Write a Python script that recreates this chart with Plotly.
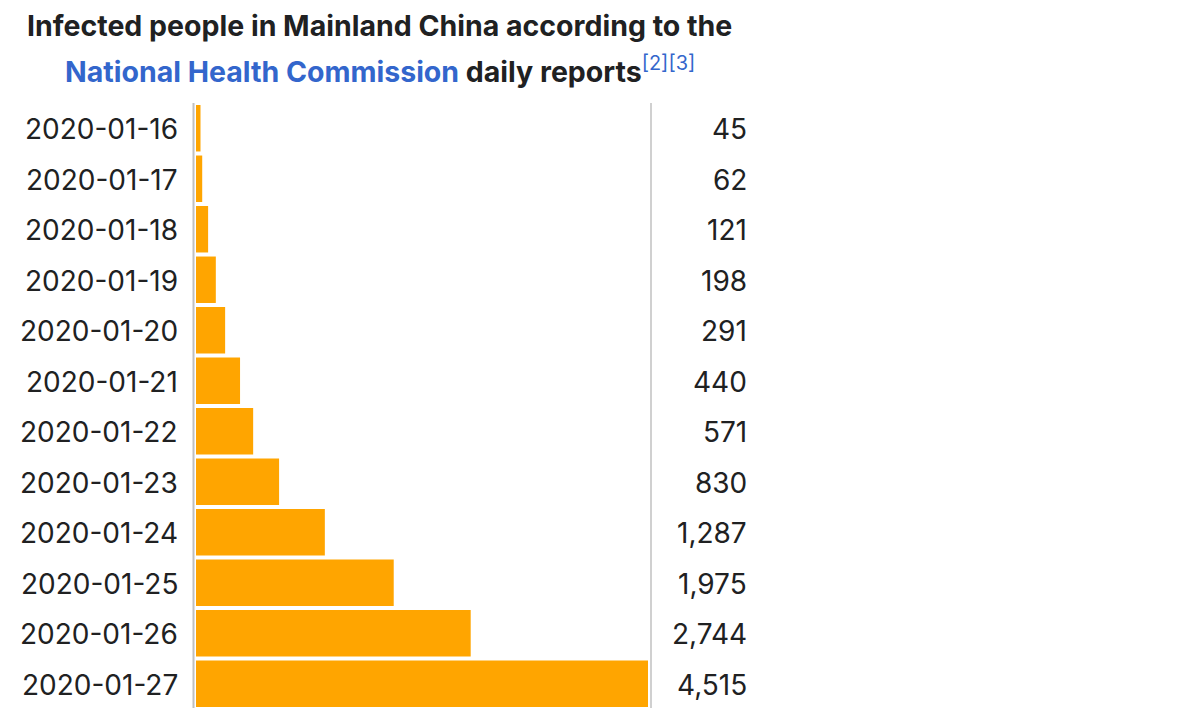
import plotly.graph_objects as go

dates = ["2020-01-16", "2020-01-17", "2020-01-18", "2020-01-19", "2020-01-20", "2020-01-21",
         "2020-01-22", "2020-01-23", "2020-01-24", "2020-01-25", "2020-01-26", "2020-01-27"]
infected = [45, 62, 121, 198, 291, 440, 571, 830, 1287, 1975, 2744, 4515]

OFF = 8  # default page body margin
W, H = 1180 - 2 * OFF, 722 - 2 * OFF
FONT = "Inter, 'Open Sans', sans-serif"
TXT = "#202122"
BLUE = "#3366cc"
GRAY = "#c0c0c0"


def px(x):
    return (x - OFF) / W


def py(y):
    return 1 - (y - OFF) / H


fig = go.Figure()
fig.add_trace(go.Bar(
    x=infected, y=dates, orientation="h",
    marker=dict(color="#ffa500", line=dict(width=0)),
    hoverinfo="x+y",
))

annotations = []
for d, v in zip(dates, infected):
    annotations.append(dict(x=px(180), xref="paper", y=d, yref="y", text=d,
                            xanchor="right", yanchor="middle", showarrow=False, yshift=-1,
                            font=dict(family=FONT, size=28, color=TXT)))
    annotations.append(dict(x=px(749), xref="paper", y=d, yref="y", text=f"{v:,}",
                            xanchor="right", yanchor="middle", showarrow=False, yshift=-1,
                            font=dict(family=FONT, size=28, color=TXT)))

annotations.append(dict(x=px(380), xref="paper", y=py(25), yref="paper",
                        text="<b>Infected people in Mainland China according to the</b>",
                        xanchor="center", yanchor="middle", showarrow=False,
                        font=dict(family=FONT, size=28.5, color=TXT)))
annotations.append(dict(x=px(380), xref="paper", y=py(70), yref="paper",
                        text=f"<b><span style='color:{BLUE}'>National Health Commission</span> daily reports</b>"
                             f"<sup><span style='color:{BLUE}'>[2][3]</span></sup>",
                        xanchor="center", yanchor="middle", showarrow=False,
                        font=dict(family=FONT, size=28.5, color=TXT)))

shapes = [
    dict(type="line", xref="paper", yref="paper", x0=px(193.5), x1=px(193.5), y0=py(103), y1=py(708),
         line=dict(color=GRAY, width=2)),
    dict(type="line", xref="paper", yref="paper", x0=px(651), x1=px(651), y0=py(103), y1=py(708),
         line=dict(color=GRAY, width=1.5)),
]

fig.update_layout(
    width=W, height=H,
    margin=dict(l=0, r=0, t=0, b=0),
    paper_bgcolor="white", plot_bgcolor="white",
    showlegend=False,
    bargap=0.08,
    xaxis=dict(domain=[px(196), px(648)], range=[0, max(infected)], visible=False, fixedrange=True),
    yaxis=dict(domain=[py(709), py(103)], autorange="reversed", visible=False,
               categoryorder="array", categoryarray=dates, fixedrange=True),
    annotations=annotations,
    shapes=shapes,
    font=dict(family=FONT),
)

fig.write_html("out.html")
